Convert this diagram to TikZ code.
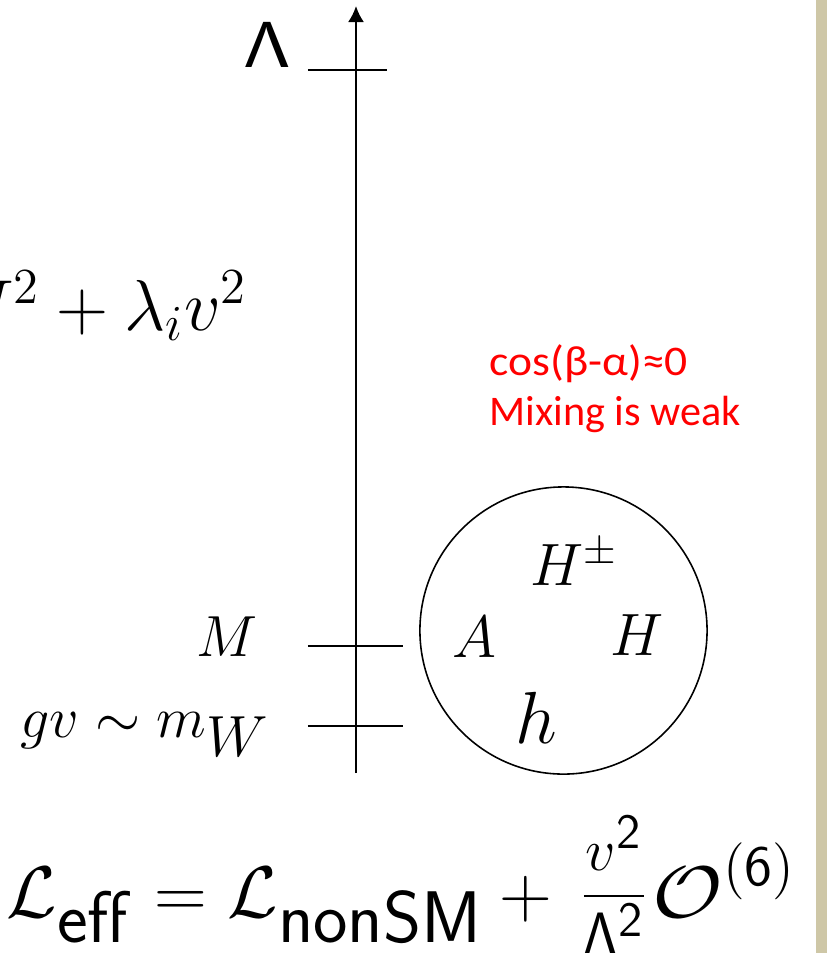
\RequirePackage{fix-cm}
\documentclass[tikz,border=0pt]{standalone}
\usepackage{amsmath}
\usepackage[no-math]{fontspec}
\newfontfamily\notefont{Carlito}
\usepackage{graphicx}
\usetikzlibrary{arrows.meta,positioning}
\definecolor{slidebar}{RGB}{206,199,167}
\newcommand{\wider}[2]{\scalebox{#1}[1]{#2}}
\newcommand{\twopow}{\hbox{\fontsize{14}{16}\selectfont$\mathsf{2}$}}
\tikzset{
	lab/.style={inner sep=0pt,font=\fontsize{16.5}{20}\selectfont},
	part/.style={inner sep=0pt,font=\fontsize{17}{20}\selectfont},
	note/.style={inner sep=0pt,text=red,font=\notefont\fontsize{12}{14}\selectfont},
	eqn/.style={inner sep=0pt,font=\fontsize{20.8}{24}\selectfont},
	scalemark/.style={line width=0.6pt},
	arr/.style={-{Latex[length=0.16cm,width=0.16cm]},line width=0.6pt}
}
\begin{document}
\begin{tikzpicture}[x=0.01cm,y=-0.01cm]
	\useasboundingbox (0,0) rectangle (827,953);
	\clip (0,0) rectangle (827,953);
	\fill[slidebar] (816,0) rectangle (827,953);
	\coordinate (foot) at (356,773);
	\coordinate (head) at (356,6);
	\draw[arr] (foot) -- (head);
	\foreach \y/\r in {70/387,646/403,726/403}\draw[scalemark] (308,\y) -- (\r,\y);
	\node[inner sep=0pt,anchor=south,font=\fontsize{18.5}{20}\selectfont] (cutoff) at (267,68) {\wider{1.28}{$\mathsf{\Lambda}$}};
	\node[lab,anchor=base east,font=\fontsize{20.5}{24}\selectfont] (split) at (248,330) {$M^2+\lambda_i v^2$};
	\node[lab,anchor=base east] (heavy) at (258,656) {$M$};
	\node[lab,anchor=base east] (light) at (270,737) {$gv\sim m_{\textstyle W}$};
	\node[note,anchor=base west] (align) at (489,375) {\wider{1.08}{cos(β-α)≈0}};
	\node[note,anchor=base west] (mixing) at (489,425) {Mixing is weak};
	\node[draw,circle,line width=0.45pt,minimum size=2.87cm] (higgs) at (563.5,630.5) {};
	\node[part,anchor=base] (hpm) at (574,585) {$H^\pm$};
	\node[part,anchor=base] (pseudo) at (474,657) {$A$};
	\node[part,anchor=base] (heavyh) at (637,655) {$H$};
	\node[part,anchor=base,font=\fontsize{21}{24}\selectfont] (lighth) at (536,743) {$h$};
	\node[eqn,anchor=base west] (leff) at (6,917) {$\mathcal{L}_{\textstyle\mathsf{eff}}=\mathcal{L}_{\textstyle\mathsf{nonSM}}+{}$};
	\node[eqn,anchor=base,font=\fontsize{17}{20}\selectfont] (suppress) at (614,911) {$\dfrac{v^{\twopow}}{\mathsf{\Lambda}^{\twopow}}$};
	\node[eqn,anchor=base west] (dimsix) at (652,917) {\wider{1.17}{$\mathcal{O}$}\raisebox{0.31cm}{\fontsize{16.2}{18}\selectfont$\mathsf{(6)}$}};
\end{tikzpicture}
\end{document}
